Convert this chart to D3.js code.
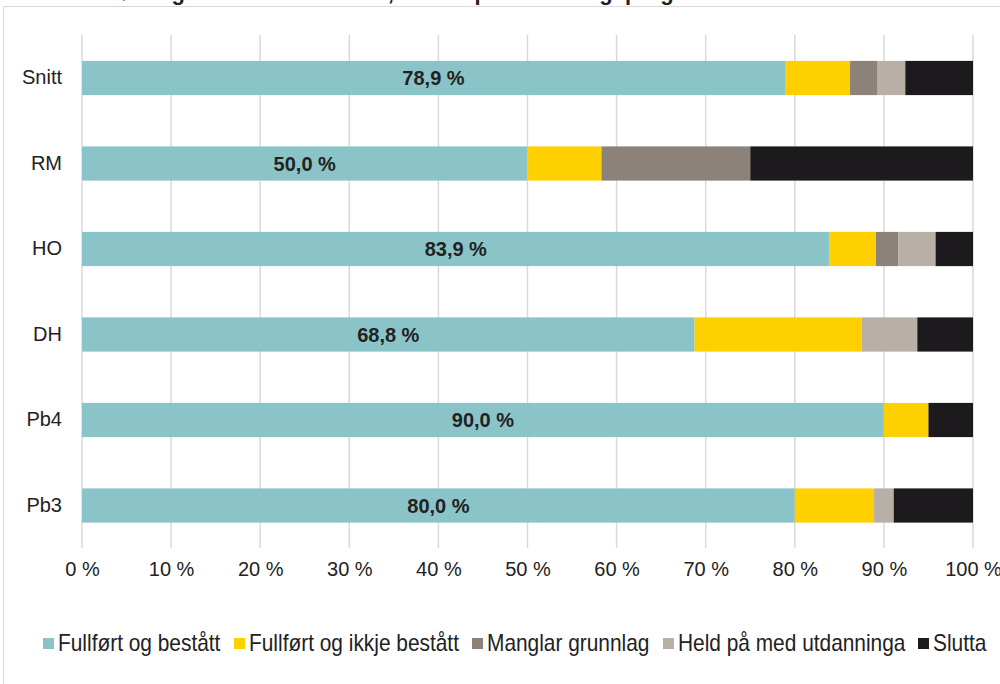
<!DOCTYPE html>
<html>
<head>
<meta charset="utf-8">
<script src="https://cdn.jsdelivr.net/npm/d3@7"></script>
<style>
  body { margin: 0; background: #fff; }
  svg text { font-family: "Liberation Sans", Arial, sans-serif; fill: #222; }
</style>
</head>
<body>
<div id="chart"></div>
<script>
const chartWidth = 1000, chartHeight = 684;

// data
const categories = ["Snitt", "RM", "HO", "DH", "Pb4", "Pb3"];
const seriesNames = ["Fullført og bestått", "Fullført og ikkje bestått", "Manglar grunnlag", "Held på med utdanninga", "Slutta"];
const seriesColors = ["#8ac4c8", "#ffd000", "#8c8279", "#b8afa6", "#1c1a1d"];
const fullfortBestatt = [78.9, 50.0, 83.9, 68.75, 90.0, 80.0];
const fullfortIkkjeBestatt = [7.3, 8.3, 5.2, 18.75, 5.0, 8.9];
const manglarGrunnlag = [3.1, 16.7, 2.5, 0, 0, 0];
const heldPaa = [3.1, 0, 4.2, 6.25, 0, 2.2];
const slutta = [7.6, 25.0, 4.2, 6.25, 5.0, 8.9];
const xTicks = [0, 10, 20, 30, 40, 50, 60, 70, 80, 90, 100];

const allSeries = [fullfortBestatt, fullfortIkkjeBestatt, manglarGrunnlag, heldPaa, slutta];
const rows = categories.map((c, i) => {
  const row = { cat: c };
  seriesNames.forEach((s, j) => row[s] = allSeries[j][i]);
  return row;
});
const stacked = d3.stack().keys(seriesNames)(rows);

const svg = d3.select("#chart").append("svg")
  .attr("width", chartWidth)
  .attr("height", chartHeight);

// frame
svg.append("rect")
  .attr("x", 3.5).attr("y", 6.5)
  .attr("width", 1000).attr("height", 700)
  .attr("fill", "none")
  .attr("stroke", "#d9d9d9");

// title, cut off at top of the picture
svg.append("text")
  .attr("x", 15).attr("y", 0)
  .style("font-weight", "bold")
  .style("font-size", "22px")
  .text("Andel fullført og bestått etter fem år, fordelt på utdanningsprogram");

const x = d3.scaleLinear().domain([0, 100]).range([82, 973]);
const y = d3.scaleBand().domain(categories)
  .range([35.25, 548.25])
  .paddingInner(0.6).paddingOuter(0.3);

// gridlines
svg.append("g").selectAll("line")
  .data(xTicks)
  .join("line")
  .attr("x1", d => x(d)).attr("x2", d => x(d))
  .attr("y1", 35).attr("y2", 548)
  .attr("stroke", "#dcd7dd")
  .attr("stroke-width", 1.5);

// bars
svg.append("g").selectAll("g")
  .data(stacked)
  .join("g")
  .attr("fill", (d, i) => seriesColors[i])
  .selectAll("rect")
  .data(d => d)
  .join("rect")
  .attr("x", d => x(d[0]))
  .attr("y", d => y(d.data.cat))
  .attr("width", d => x(d[1]) - x(d[0]))
  .attr("height", y.bandwidth());

// value labels
const fmt = v => d3.format(".1f")(v).replace(".", ",") + " %";
svg.append("g").selectAll("text")
  .data(rows)
  .join("text")
  .attr("x", d => (x(0) + x(d[seriesNames[0]])) / 2)
  .attr("y", d => y(d.cat) + y.bandwidth() / 2)
  .attr("dy", "0.35em")
  .attr("text-anchor", "middle")
  .style("font-weight", "bold")
  .style("font-size", "20px")
  .text(d => fmt(d[seriesNames[0]]));

// category axis
const yAxis = svg.append("g")
  .attr("transform", "translate(62,0)")
  .call(d3.axisLeft(y).tickSize(0).tickPadding(0));
yAxis.select(".domain").remove();
yAxis.selectAll("text").style("font-size", "20px").attr("fill", "#222");

// x axis
const xAxis = svg.append("g")
  .attr("transform", "translate(0,548)")
  .call(d3.axisBottom(x).tickValues(xTicks).tickSize(0).tickPadding(14).tickFormat(d => d + " %"));
xAxis.select(".domain").remove();
xAxis.selectAll("text").style("font-size", "20px").attr("fill", "#222");

// legend (text is narrow in the original)
const legendX = [43, 234, 472, 663, 918];
const legend = svg.append("g").selectAll("g")
  .data(seriesNames)
  .join("g")
  .attr("transform", (d, i) => `translate(${legendX[i]},643.5)`);
legend.append("rect")
  .attr("x", 0).attr("y", -5.5)
  .attr("width", 11).attr("height", 11)
  .attr("fill", (d, i) => seriesColors[i]);
legend.append("text")
  .attr("transform", "translate(15,7) scale(0.87,1)")
  .style("font-size", "24px")
  .text(d => d);
</script>
</body>
</html>
